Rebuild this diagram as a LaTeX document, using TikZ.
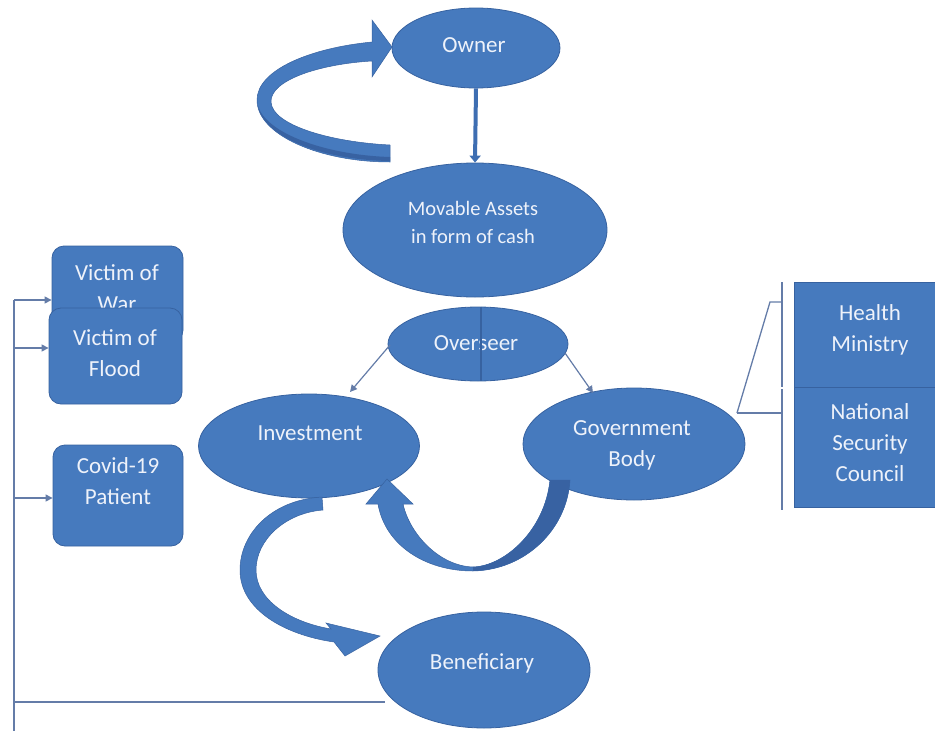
\documentclass[tikz,border=0pt]{standalone}
\usepackage{fontspec}
\setmainfont{Carlito}
\usetikzlibrary{shapes.geometric,arrows.meta}
\definecolor{fillblue}{RGB}{70,122,190}
\definecolor{edgeblue}{RGB}{55,98,160}
\definecolor{darkarm}{RGB}{56,98,162}
\definecolor{shaftblue}{RGB}{62,110,178}
\definecolor{txtcol}{RGB}{238,242,250}
\definecolor{linecol}{RGB}{100,124,168}
\begin{document}
\begin{tikzpicture}[x=1pt,y=-1pt,
  blob/.style={ellipse, fill=fillblue, draw=edgeblue, line width=0.8pt, inner sep=0pt},
  rbox/.style={rectangle, rounded corners=12pt, fill=fillblue, draw=edgeblue, line width=0.8pt, inner sep=0pt},
  sbox/.style={rectangle, fill=fillblue, draw=edgeblue, line width=0.8pt, inner sep=0pt},
  lbl/.style={text=txtcol, font=\fontsize{23}{31}\selectfont, align=center, inner sep=0pt},
  slbl/.style={text=txtcol, font=\fontsize{20.5}{28}\selectfont, align=center, inner sep=0pt},
  thinline/.style={draw=linecol, line width=1.3pt},
  thinarrow/.style={draw=linecol, line width=1.2pt, -{Triangle[width=7pt,length=7pt]}},
  fat/.style={fill=fillblue, draw=edgeblue, line width=0.5pt},
]
\useasboundingbox (0,0) rectangle (935,731);

% ---------- ellipses ----------
\node[blob, minimum width=168pt, minimum height=80pt] (owner) at (476,48) {};
\node[lbl] (ownert) at (474,45) {Owner};

\node[blob, minimum width=264pt, minimum height=134pt] (movable) at (475,230) {};
\node[slbl] (movablet) at (473,222) {Movable Assets\\in form of cash};

\node[blob, minimum width=180pt, minimum height=74pt] (over) at (478,344) {};
\node[lbl] (overt) at (476,343) {Overseer};
\draw[draw=edgeblue, line width=2.4pt] ([xshift=3pt]over.north) -- ([xshift=3pt]over.south);

\node[blob, minimum width=221pt, minimum height=104pt] (inv) at (309,446) {};
\node[lbl] (invt) at (310,433) {Investment};

\node[blob, minimum width=222pt, minimum height=112pt] (gov) at (634,444) {};
\node[lbl] (govt) at (632,445) {Government\\Body};

\node[blob, minimum width=212pt, minimum height=116pt] (ben) at (484,670) {};
\node[lbl] (bent) at (482,663) {Beneficiary};

% ---------- left boxes ----------
\node[rbox, minimum width=131pt, minimum height=96pt] (war) at (117.5,294) {};
\node[lbl] (wart) at (117,288.5) {Victim of\\War};
\node[rbox, minimum width=133pt, minimum height=96pt] (flood) at (115.5,356) {};
\node[lbl] (floodt) at (115,353) {Victim of\\Flood};
\node[rbox, minimum width=130pt, minimum height=101pt] (covid) at (118,495.5) {};
\node[lbl] (covidt) at (118,481) {Covid-19\\Patient};

% ---------- right boxes ----------
\node[sbox, minimum width=143pt, minimum height=105pt] (health) at (865.5,334.5) {};
\node[lbl] (healtht) at (870,329.5) {Health\\Ministry};
\node[sbox, minimum width=143pt, minimum height=120pt] (nsc) at (865.5,447) {};
\node[lbl] (nsct) at (870,443) {National\\Security\\Council};

% ---------- thin connectors ----------
\coordinate (lt) at (14,300);
\coordinate (lf) at (14,348);
\coordinate (lc) at (14,498);
\coordinate (lbtm) at (14,731);
\coordinate (lbl) at (14,702);
\coordinate (bend) at (385,702);
\draw[thinline] (lt) -- (lbtm);
\draw[thinarrow] (lt) -- (lt -| war.west);
\draw[thinarrow] (lf) -- (lf -| flood.west);
\draw[thinarrow] (lc) -- (lc -| covid.west);
\draw[thinline] (lbl) -- (bend);

\coordinate (ovl) at (390,345);
\coordinate (invtop) at (350,392);
\coordinate (ovr) at (565,353);
\coordinate (govtop) at (593,393);
\draw[thinarrow] (ovl) -- (invtop);
\draw[thinarrow] (ovr) -- (govtop);

\coordinate (gA) at (737,413);
\coordinate (hk) at (770,302);
\coordinate (hA) at (782,302);
\coordinate (nA) at (782,413);
\draw[thinline] (gA) -- (hk) -- (hA);
\draw[thinline] (gA) -- (nA);
\coordinate (h1) at (782,282);
\coordinate (h2) at (782,387);
\coordinate (n1) at (782,389);
\coordinate (n2) at (782,510);
\draw[draw=linecol, line width=2pt] (h1) -- (h2);
\draw[draw=linecol, line width=2pt] (n1) -- (n2);

% ---------- owner -> movable ----------
\draw[draw=shaftblue, line width=4pt, -{Triangle[width=11pt,length=7pt]}] (owner.south) -- (movable.north);

% ---------- loop arrow into Owner ----------
\fill[fat] (390,145) .. controls (330,142) and (272,125) .. (271,102)
  .. controls (270,80) and (320,64) .. (372,61)
  -- (372,77) -- (392,47) -- (372,20) -- (372,42)
  .. controls (310,48) and (257,70) .. (257,100)
  .. controls (257,135) and (320,162) .. (390,162) -- cycle;
\fill[darkarm] (258,106) .. controls (263,136) and (320,160) .. (390,161)
  -- (390,157) .. controls (325,155) and (266,133) .. (258,106) -- cycle;

% ---------- Investment -> Beneficiary ----------
\fill[fat] (322,497) .. controls (270,500) and (240,535) .. (240,570)
  .. controls (240,610) and (285,635) .. (334,642)
  -- (345,656) -- (380,636) -- (326,623) -- (331,629)
  .. controls (290,622) and (256,600) .. (256,570)
  .. controls (256,540) and (285,513) .. (323,510) -- cycle;

% ---------- Government -> Investment (U arrow) ----------
\fill[fat] (366,504) -- (387,479) -- (413,504) -- (403,504)
  .. controls (410,535) and (440,566) .. (473,567)
  .. controls (505,566) and (545,530) .. (550,480)
  -- (570,480)
  .. controls (567,530) and (525,570) .. (473,571)
  .. controls (425,571) and (385,545) .. (378,504) -- cycle;
\fill[darkarm] (473,567) .. controls (505,566) and (545,530) .. (550,480)
  -- (570,480) .. controls (567,530) and (525,570) .. (473,571) -- cycle;
\end{tikzpicture}
\end{document}
